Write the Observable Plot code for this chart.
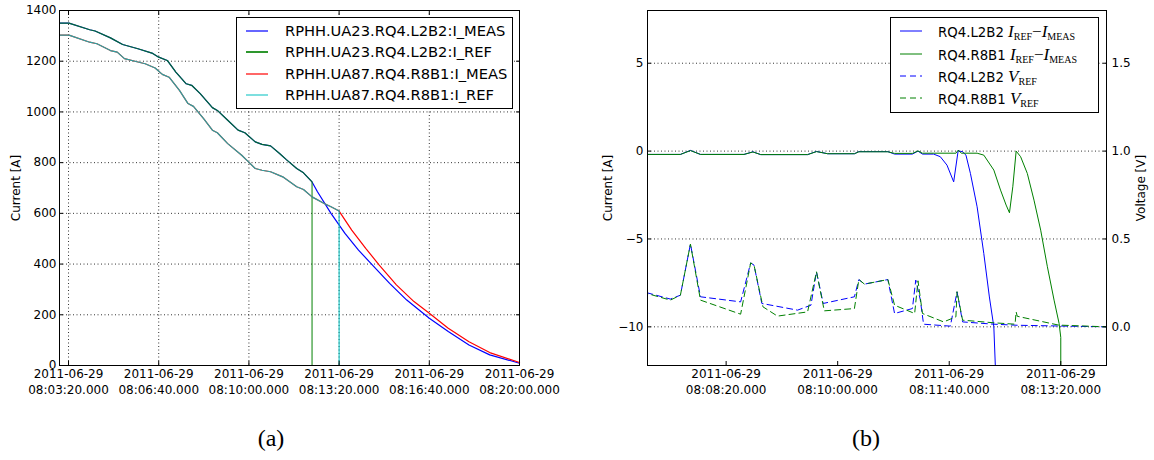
<!DOCTYPE html>
<html><head><meta charset="utf-8">
<script src="https://cdn.jsdelivr.net/npm/d3@7"></script>
<script src="https://cdn.jsdelivr.net/npm/@observablehq/plot@0.6"></script>
<style>
html,body{margin:0;padding:0;background:#fff;}
body{width:1154px;height:460px;position:relative;overflow:hidden;font-family:"DejaVu Sans",sans-serif;color:#000;}
#pa{position:absolute;left:0;top:0;}
#pb{position:absolute;left:590px;top:0;}
#pa svg text,#pb svg text{font-family:"DejaVu Sans",sans-serif;}
.leg{position:absolute;border:1px solid #000;background:#fff;box-sizing:border-box;}
.row{position:absolute;left:0;right:0;height:0;}
.row svg{position:absolute;top:-3px;}
.row .t{position:absolute;top:0;transform:translateY(-50%);white-space:nowrap;line-height:1;}
.m{font-family:"Liberation Serif",serif;font-size:17px;}
.m i{font-style:italic;}
.m sub{font-size:10px;vertical-align:-3px;line-height:0;}
.cap{position:absolute;font-family:"Liberation Serif",serif;font-size:24px;transform:translate(-50%,-50%);}
</style></head><body>
<div id="pa"></div><div id="pb"></div>
<div class="cap" style="left:271px;top:438px">(a)</div>
<div class="cap" style="left:866px;top:438px">(b)</div>
<script>
const day = "2011-06-29";
const T = s => new Date(`${day}T${s}Z`);

// ---------- Panel (a) data ----------
const aXTicks = ["08:03:20.000","08:06:40.000","08:10:00.000","08:13:20.000","08:16:40.000","08:20:00.000"];
const aYTicks = [0,200,400,600,800,1000,1200,1400];

const l2b2RefTime = ["08:03:00","08:03:21","08:04:07","08:04:19","08:04:53","08:05:20","08:05:54","08:06:25","08:06:40","08:06:59","08:07:18","08:07:41","08:07:53","08:08:12","08:08:39","08:08:50","08:09:13","08:09:36","08:09:51","08:10:14","08:10:29","08:10:48","08:11:08","08:11:23","08:11:46","08:12:01","08:12:20","08:12:20"];
const l2b2RefVal  = [1350,1350,1324,1319,1292,1266,1249,1232,1216,1203,1157,1111,1105,1072,1017,1006,967,928,918,882,872,866,836,812,777,760,724,0];
const l2b2MeasTailTime = ["08:12:32","08:13:02","08:13:33","08:14:03","08:14:34","08:15:12","08:15:50","08:16:40","08:17:22","08:18:08","08:18:54","08:20:00"];
const l2b2MeasTailVal  = [685,600,521,455,396,324,258,186,134,81,42,9];

const r8b1RefTime = ["08:03:00","08:03:21","08:04:07","08:04:23","08:04:53","08:05:08","08:05:24","08:05:54","08:06:10","08:06:32","08:06:48","08:07:03","08:07:26","08:07:45","08:07:57","08:08:20","08:08:39","08:08:50","08:09:13","08:09:44","08:09:59","08:10:14","08:10:29","08:10:48","08:11:15","08:11:46","08:12:01","08:12:20","08:12:47","08:13:02","08:13:20","08:13:20"];
const r8b1RefVal  = [1303,1303,1275,1269,1242,1236,1210,1197,1190,1173,1148,1137,1085,1033,1022,973,928,918,875,829,803,777,770,764,744,705,694,665,639,626,609,0];
const r8b1MeasTailTime = ["08:13:48","08:14:19","08:14:49","08:15:27","08:16:06","08:16:40","08:17:22","08:18:08","08:18:54","08:20:00"];
const r8b1MeasTailVal  = [534,462,396,318,252,206,147,94,51,12];

const aNames = ["RPHH.UA23.RQ4.L2B2:I_MEAS","RPHH.UA23.RQ4.L2B2:I_REF","RPHH.UA87.RQ4.R8B1:I_MEAS","RPHH.UA87.RQ4.R8B1:I_REF"];

// ---------- Panel (b) data ----------
const bXTicks = ["08:08:20.000","08:10:00.000","08:11:40.000","08:13:20.000"];
const bYTicks = [-10,-5,0,5];

const l2b2DiffTime = ["08:07:09","08:07:39","08:07:48","08:07:57","08:08:36","08:08:44","08:08:51","08:09:33","08:09:41","08:09:51","08:10:15","08:10:19","08:10:45","08:10:51","08:11:07","08:11:12","08:11:16","08:11:26","08:11:32","08:11:38","08:11:44","08:11:48","08:11:52","08:11:55","08:11:59","08:12:05","08:12:11","08:12:16","08:12:20","08:12:21.500"];
const l2b2DiffVal  = [-0.19,-0.19,0.04,-0.19,-0.19,-0.04,-0.2,-0.2,-0.02,-0.15,-0.15,-0.03,-0.03,-0.17,-0.17,0.0,-0.17,-0.17,-0.32,-0.8,-1.75,0.02,-0.04,-0.23,-1.27,-3.17,-5.83,-8.3,-10.0,-12.5];

const r8b1DiffTime = ["08:07:09","08:07:39","08:07:48","08:07:57","08:08:36","08:08:44","08:08:51","08:09:33","08:09:41","08:09:51","08:10:15","08:10:19","08:10:45","08:10:51","08:11:07","08:11:12","08:11:16","08:11:26","08:11:46","08:11:48","08:11:51","08:12:05","08:12:11","08:12:20","08:12:26","08:12:31","08:12:34","08:12:37","08:12:40","08:12:44","08:12:50","08:12:56","08:13:02","08:13:08","08:13:14","08:13:18.500","08:13:20","08:13:20"];
const r8b1DiffVal  = [-0.19,-0.19,0.03,-0.19,-0.19,-0.05,-0.2,-0.2,-0.03,-0.15,-0.15,-0.04,-0.04,-0.13,-0.13,0.01,-0.12,-0.12,-0.12,0.05,-0.12,-0.12,-0.23,-1.08,-2.22,-3.07,-3.51,-2.03,0.0,-0.32,-1.27,-2.79,-4.5,-6.58,-8.48,-9.81,-10.6,-12.5];

const l2b2VrefTime = ["08:07:09","08:07:30","08:07:39","08:07:48","08:07:57","08:08:33","08:08:42","08:08:45","08:08:52","08:09:24","08:09:36","08:09:41","08:09:47","08:10:15","08:10:19","08:10:24","08:10:45","08:10:51","08:11:07","08:11:10","08:11:14","08:11:17","08:11:41","08:11:47","08:11:52","08:12:20","08:12:41","08:14:01"];
const l2b2VrefVal  = [0.194,0.158,0.18,0.471,0.171,0.142,0.364,0.351,0.133,0.095,0.123,0.313,0.133,0.171,0.269,0.243,0.269,0.076,0.104,0.266,0.156,0.015,0.004,0.199,0.028,0.015,0.009,0.0];

const r8b1VrefTime = ["08:07:09","08:07:30","08:07:39","08:07:48","08:07:57","08:08:33","08:08:42","08:08:45","08:08:53","08:09:06","08:09:33","08:09:41","08:09:48","08:10:15","08:10:19","08:10:24","08:10:45","08:10:51","08:11:09","08:11:12","08:11:16","08:11:35","08:11:46","08:11:47","08:11:52","08:12:20","08:12:39","08:12:40","08:12:41","08:13:18","08:14:01"];
const r8b1VrefVal  = [0.19,0.152,0.18,0.471,0.152,0.072,0.364,0.351,0.114,0.061,0.085,0.313,0.091,0.104,0.269,0.243,0.269,0.123,0.076,0.262,0.076,0.028,0.057,0.2,0.038,0.023,0.015,0.085,0.06,0.01,0.0];

// ---------- build ----------
const zip = (ts, vs) => ts.map((t, i) => ({t: T(t), v: vs[i]}));
const fmt = d3.utcFormat("%Y-%m-%d\n%H:%M:%S.000");
const gridStyle = {stroke: "#000", strokeOpacity: 0.8, strokeDasharray: "1,2.5", strokeWidth: 1};
const font = {fontFamily: "'DejaVu Sans', sans-serif", fontSize: "12px", background: "transparent", color: "#000", overflow: "visible"};

const aMeasL = zip(l2b2RefTime.slice(0, -1), l2b2RefVal.slice(0, -1)).concat(zip(l2b2MeasTailTime, l2b2MeasTailVal));
const aRefL  = zip(l2b2RefTime, l2b2RefVal);
const aMeasR = zip(r8b1RefTime.slice(0, -1), r8b1RefVal.slice(0, -1)).concat(zip(r8b1MeasTailTime, r8b1MeasTailVal));
const aRefR  = zip(r8b1RefTime, r8b1RefVal);
const aColors = ["#0000ff", "#008000", "#ff0000", "#00bfbf"];
const aOpac = [1, 0.82, 1, 0.85];
const aXt = aXTicks.map(T);

const plotA = Plot.plot({
  width: 560, height: 400,
  marginLeft: 59, marginRight: 41, marginTop: 10, marginBottom: 35,
  style: font,
  x: {type: "utc", domain: [T("08:03:00"), T("08:20:00")]},
  y: {domain: [0, 1400]},
  marks: [
    Plot.gridX(aXt, gridStyle),
    Plot.gridY(aYTicks, gridStyle),
    ...[aMeasL, aRefL, aMeasR, aRefR].map((d, i) =>
      Plot.line(d, {x: "t", y: "v", stroke: aColors[i], strokeOpacity: aOpac[i], strokeWidth: 1.2})),
    Plot.frame({stroke: "#000"}),
    Plot.axisX(aXt, {tickSize: 0, tickPadding: 1.6, tickFormat: fmt, lineHeight: 1.33, label: null}),
    Plot.axisX(aXt, {tickSize: -4, tickFormat: () => "", label: null}),
    Plot.axisX(aXt, {anchor: "top", tickSize: -4, tickFormat: () => "", label: null}),
    Plot.axisY(aYTicks, {tickSize: 0, tickPadding: 3, tickFormat: d => String(d), label: "Current [A]", labelAnchor: "center", labelArrow: "none", labelOffset: 48}),
    Plot.axisY(aYTicks, {tickSize: -4, tickFormat: () => "", label: null}),
    Plot.axisY(aYTicks, {anchor: "right", tickSize: -4, tickFormat: () => "", label: null})
  ]
});
document.getElementById("pa").append(plotA);

const V2I = v => 10 * v - 10;
const bDiffL = zip(l2b2DiffTime, l2b2DiffVal);
const bDiffR = zip(r8b1DiffTime, r8b1DiffVal);
const bVL = zip(l2b2VrefTime, l2b2VrefVal).map(d => ({t: d.t, v: V2I(d.v)}));
const bVR = zip(r8b1VrefTime, r8b1VrefVal).map(d => ({t: d.t, v: V2I(d.v)}));
const bXt = bXTicks.map(T);

const plotB = Plot.plot({
  width: 564, height: 400,
  marginLeft: 57, marginRight: 48, marginTop: 10, marginBottom: 35,
  style: font,
  x: {type: "utc", domain: [T("08:07:09.500"), T("08:14:01")]},
  y: {domain: [-12.2, 8.0]},
  marks: [
    Plot.gridY(bYTicks, gridStyle),
    Plot.line(bDiffL, {x: "t", y: "v", stroke: "#0000ff", strokeWidth: 1, clip: true}),
    Plot.line(bDiffR, {x: "t", y: "v", stroke: "#008000", strokeWidth: 1, clip: true}),
    Plot.line(bVL, {x: "t", y: "v", stroke: "#0000ff", strokeWidth: 1, strokeDasharray: "6,4", clip: true}),
    Plot.line(bVR, {x: "t", y: "v", stroke: "#008000", strokeWidth: 1, strokeDasharray: "6,4", strokeDashoffset: 5, clip: true}),
    Plot.frame({stroke: "#000"}),
    Plot.axisX(bXt, {tickSize: 0, tickPadding: 1.6, tickFormat: fmt, lineHeight: 1.33, label: null}),
    Plot.axisX(bXt, {tickSize: -4, tickFormat: () => "", label: null}),
    Plot.axisY(bYTicks, {tickSize: 0, tickPadding: 4, label: "Current [A]", labelAnchor: "center", labelArrow: "none", labelOffset: 44}),
    Plot.axisY(bYTicks, {tickSize: -4, tickFormat: () => "", label: null}),
    Plot.axisY(bYTicks, {anchor: "right", tickSize: 0, tickPadding: 5, tickFormat: d => ((d + 10) / 10).toFixed(1), label: "Voltage [V]", labelAnchor: "center", labelArrow: "none", labelOffset: 38}),
    Plot.axisY(bYTicks, {anchor: "right", tickSize: -4, tickFormat: () => "", label: null})
  ]
});
document.getElementById("pb").append(plotB);

// ---------- legends ----------
function legend(cfg, rows) {
  const box = document.createElement("div");
  box.className = "leg";
  Object.assign(box.style, {left: cfg.left + "px", top: cfg.top + "px", width: cfg.width + "px", height: cfg.height + "px"});
  rows.forEach((r, i) => {
    const row = document.createElement("div");
    row.className = "row";
    row.style.top = (cfg.rowTop + i * cfg.rowStep) + "px";
    row.innerHTML = `<svg width="${cfg.lineX1 + 2}" height="6" style="left:0"><line x1="${cfg.lineX0}" x2="${cfg.lineX1}" y1="3" y2="3" stroke="${r.color}" stroke-opacity="${r.opacity || 1}" stroke-width="${r.width || 1.2}" ${r.dash ? `stroke-dasharray="${r.dash}"` : ""}/></svg><span class="t" style="left:${cfg.textX}px;font-size:${cfg.fontSize}px">${r.html}</span>`;
    box.append(row);
  });
  document.body.append(box);
}
legend({left: 236, top: 17, width: 277, height: 92, rowTop: 12.7, rowStep: 21.4, lineX0: 9, lineX1: 31, textX: 48, fontSize: 14.7},
  aNames.map((n, i) => ({html: n, color: aColors[i], opacity: aOpac[i], width: i === 1 ? 2 : 1.2})));

const dI = `<span class="m"><i>I</i><sub>REF</sub>−<i>I</i><sub>MEAS</sub></span>`;
const dV = `<span class="m"><i>V</i><sub>REF</sub></span>`;
legend({left: 890, top: 17, width: 209, height: 96, rowTop: 13.4, rowStep: 22.2, lineX0: 9, lineX1: 31, textX: 47, fontSize: 13.3}, [
  {html: "RQ4.L2B2 " + dI, color: "#0000ff", width: 1},
  {html: "RQ4.R8B1 " + dI, color: "#008000", width: 1},
  {html: "RQ4.L2B2 " + dV, color: "#0000ff", width: 1, dash: "6,4"},
  {html: "RQ4.R8B1 " + dV, color: "#008000", width: 1, dash: "6,4"}
]);
</script>
</body></html>
